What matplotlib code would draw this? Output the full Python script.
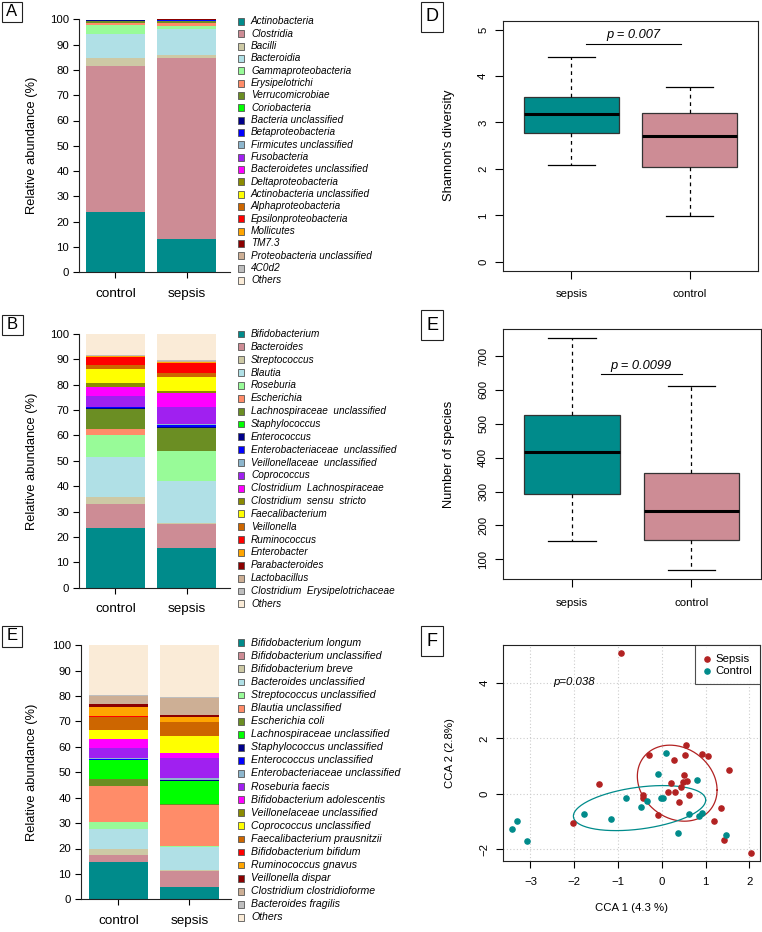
import matplotlib.pyplot as plt
import numpy as np
from matplotlib.patches import Rectangle

plt.rcParams['font.family'] = ['Liberation Sans', 'DejaVu Sans']

W, H = 762, 932

# colours shared by the three stacked bar panels (same order as the legends)
palette = ['#008B8B', '#CD8C95', '#CDC9A5', '#B0E0E6', '#98FB98', '#FF8C69',
           '#6B8E23', '#00FF00', '#00008B', '#0000FF', '#8DB6CD', '#A020F0',
           '#FF00FF', '#8B8B00', '#FFFF00', '#CD6600', '#FF0000', '#FFA500',
           '#8B0000', '#CDAF95', '#BEBEBE', '#FAEBD7']
teal = '#008B8B'
pink = '#CD8C95'
red = '#B22222'

groups = ['control', 'sepsis']

# panel A - class level
class_names = ['Actinobacteria', 'Clostridia', 'Bacilli', 'Bacteroidia', 'Gammaproteobacteria',
               'Erysipelotrichi', 'Verrucomicrobiae', 'Coriobacteria', 'Bacteria unclassified',
               'Betaproteobacteria', 'Firmicutes unclassified', 'Fusobacteria',
               'Bacteroidetes unclassified', 'Deltaproteobacteria', 'Actinobacteria unclassified',
               'Alphaproteobacteria', 'Epsilonproteobacteria', 'Mollicutes', 'TM7.3',
               'Proteobacteria unclassified', '4C0d2', 'Others']
class_control = [23.8, 57.8, 3.1, 9.6, 3.5, 0.6, 1.0, 0.1, 0.15, 0.03, 0.03, 0.02, 0.02,
                 0.02, 0.02, 0.02, 0.02, 0.02, 0.01, 0.02, 0.01, 0.03]
class_sepsis = [13.3, 71.5, 1.0, 10.2, 1.4, 1.3, 0.5, 0.2, 0.1, 0.1, 0.05, 0.05, 0.05,
                0.05, 0.03, 0.03, 0.03, 0.03, 0.02, 0.03, 0.01, 0.02]

# panel B - genus level
genus_names = ['Bifidobacterium', 'Bacteroides', 'Streptococcus', 'Blautia', 'Roseburia',
               'Escherichia', 'Lachnospiraceae  unclassified', 'Staphylococcus', 'Enterococcus',
               'Enterobacteriaceae  unclassified', 'Veillonellaceae  unclassified', 'Coprococcus',
               'Clostridium  Lachnospiraceae', 'Clostridium  sensu  stricto', 'Faecalibacterium',
               'Veillonella', 'Ruminococcus', 'Enterobacter', 'Parabacteroides', 'Lactobacillus',
               'Clostridium  Erysipelotrichaceae', 'Others']
genus_control = [23.7, 9.3, 2.9, 15.7, 8.6, 2.2, 8.0, 0.1, 0.2, 0.5, 0.2, 4.0, 3.7, 1.6,
                 5.4, 1.5, 3.5, 0.1, 0.1, 0.2, 0.3, 8.2]
genus_sepsis = [15.8, 9.2, 0.4, 16.5, 11.8, 0.2, 9.0, 0.1, 0.2, 0.9, 0.3, 7.0, 5.2, 1.1,
                5.2, 1.9, 3.9, 0.1, 0.2, 0.3, 0.4, 10.3]

# panel E (left) - species level
species_names = ['Bifidobacterium longum', 'Bifidobacterium unclassified', 'Bifidobacterium breve',
                 'Bacteroides unclassified', 'Streptococcus unclassified', 'Blautia unclassified',
                 'Escherichia coli', 'Lachnospiraceae unclassified', 'Staphylococcus unclassified',
                 'Enterococcus unclassified', 'Enterobacteriaceae unclassified', 'Roseburia faecis',
                 'Bifidobacterium adolescentis', 'Veillonelaceae unclassified',
                 'Coprococcus unclassified', 'Faecalibacterium prausnitzii',
                 'Bifidobacterium bifidum', 'Ruminococcus gnavus', 'Veillonella dispar',
                 'Clostridium clostridioforme', 'Bacteroides fragilis', 'Others']
species_control = [14.6, 3.0, 2.3, 7.8, 2.7, 14.2, 2.6, 7.7, 0.1, 0.2, 0.6, 3.9, 3.3, 0.1,
                   3.6, 5.1, 0.4, 3.4, 1.3, 3.3, 0.2, 19.6]
species_sepsis = [4.7, 6.3, 0.5, 9.0, 0.4, 16.4, 0.1, 9.3, 0.1, 0.1, 0.7, 8.0, 1.9, 0.1,
                  6.8, 5.3, 0.2, 1.8, 0.9, 6.5, 0.4, 20.5]

# panels D and E (right) - box summaries: lower whisker, Q1, median, Q3, upper whisker
box_groups = ['sepsis', 'control']
shannon_sepsis = [2.09, 2.78, 3.18, 3.54, 4.41]
shannon_control = [0.99, 2.04, 2.70, 3.21, 3.77]
richness_sepsis = [154, 293, 416, 525, 752]
richness_control = [68, 157, 243, 356, 613]

# panel F - CCA site scores
sepsis_x = [-0.93, -1.44, -2.02, -0.29, 0.56, 0.52, 0.92, 1.06, 0.27, 1.54, 0.50, 0.20, 0.48,
            0.58, 0.44, 0.13, 0.30, 0.63, -0.44, -0.44, 0.40, -0.08, 1.35, 1.18, 1.42, 2.03]
sepsis_y = [5.07, 0.36, -1.06, 1.40, 1.75, 1.41, 1.42, 1.37, 1.20, 0.84, 0.67, 0.37, 0.43,
            0.45, 0.23, 0.07, 0.07, -0.04, -0.05, -0.17, -0.29, -0.76, -0.53, -1.00, -1.67, -2.14]
control_x = [0.09, -0.08, 0.81, -0.83, -0.35, -0.48, -0.02, 0.03, -1.77, -1.17, 0.63, 0.84,
             0.92, 0.37, 1.47, -3.31, -3.41, -3.08]
control_y = [1.48, 0.72, 0.49, -0.14, -0.27, -0.47, -0.17, -0.17, -0.75, -0.92, -0.75, -0.80,
             -0.71, -1.43, -1.49, -0.98, -1.28, -1.70]
# ellipse: centre x, centre y, x half-width, y half-height, tilt of y with x
sepsis_ell = (0.35, 0.38, 0.91, 1.35, -0.25)
control_ell = (-0.51, -0.52, 1.51, 0.76, 0.29)

fig = plt.figure(figsize=(W / 100, H / 100), dpi=100)


def add_axes_px(left, top, right, bottom):
    return fig.add_axes([left / W, 1 - bottom / H, (right - left) / W, (bottom - top) / H])


def letter_box(x0, y0, x1, y1, letter, size):
    fig.add_artist(Rectangle((x0 / W, 1 - y1 / H), (x1 - x0) / W, (y1 - y0) / H,
                             transform=fig.transFigure, fill=False, edgecolor='#222222', lw=0.8))
    fig.text((x0 + x1) / 2 / W, 1 - (y0 + y1) / 2 / H, letter, ha='center', va='center',
             fontsize=size)


def stacked_panel(rect, control, sepsis, names, xlim, leg_y0, leg_step, leg_size):
    ax = add_axes_px(*rect)
    pos = [0.7, 1.9]
    bottoms = np.zeros(2)
    for i in range(len(names)):
        vals = np.array([control[i], sepsis[i]])
        ax.bar(pos, vals, width=1.0, bottom=bottoms, color=palette[i], linewidth=0)
        bottoms += vals
    ax.set_xlim(*xlim)
    ax.set_ylim(0, 100)
    for s in ['top', 'right']:
        ax.spines[s].set_visible(False)
    for s in ['left', 'bottom']:
        ax.spines[s].set_linewidth(0.8)
        ax.spines[s].set_color('#222222')
    ax.set_xticks(pos, groups)
    ax.set_yticks(range(0, 101, 10))
    ax.tick_params(axis='y', length=4.3, width=0.8, pad=2.5, labelsize=8.2)
    ax.tick_params(axis='x', length=4.3, width=0.8, pad=7, labelsize=9.7)
    ax.set_ylabel('Relative abundance (%)', fontsize=9.3)
    ax.yaxis.set_label_coords((38 - rect[0]) / (rect[2] - rect[0]), 0.5)
    # legend squares + italic names
    for i, name in enumerate(names):
        yc = leg_y0 + i * leg_step
        fig.add_artist(Rectangle((237.5 / W, 1 - (yc + 3.4) / H), 6.8 / W, 6.8 / H,
                                 transform=fig.transFigure, facecolor=palette[i],
                                 edgecolor='#555555', lw=0.6))
        fig.text(251 / W, 1 - yc / H, name, va='center', ha='left', style='italic',
                 fontsize=leg_size)
    return ax


stacked_panel((78.7, 19.3, 230, 272.3), class_control, class_sepsis, class_names,
              (0.08, 2.63), 21.5, 12.33, 7.2)
stacked_panel((78.7, 334, 230, 587.7), genus_control, genus_sepsis, genus_names,
              (0.08, 2.63), 334, 12.85, 7.2)
stacked_panel((80.7, 645.3, 230.7, 899.3), species_control, species_sepsis, species_names,
              (0.065, 2.595), 642.7, 13.08, 7.6)


def box_panel(rect, sep, con, ylim, yticks, ylabel, pl_x, pl_y, pt_x, pt_y, ptext):
    ax = add_axes_px(*rect)
    stats = []
    for s in [sep, con]:
        stats.append(dict(whislo=s[0], q1=s[1], med=s[2], q3=s[3], whishi=s[4]))
    bp = ax.bxp(stats, positions=[1, 2], widths=0.8, capwidths=0.4, patch_artist=True,
                showfliers=False,
                boxprops=dict(edgecolor='#333333', linewidth=0.9),
                medianprops=dict(color='black', linewidth=2.2),
                whiskerprops=dict(color='black', linewidth=0.9, linestyle=(0, (3, 3))),
                capprops=dict(color='black', linewidth=0.9))
    for patch, c in zip(bp['boxes'], [teal, pink]):
        patch.set_facecolor(c)
    ax.set_xlim(0.42, 2.58)
    ax.set_ylim(*ylim)
    ax.set_xticks([1, 2], box_groups)
    ax.set_yticks(yticks)
    for lab in ax.get_yticklabels():
        lab.set_rotation(90)
        lab.set_va('center')
    ax.tick_params(axis='both', length=5.5, width=0.8, labelsize=8.2)
    ax.tick_params(axis='x', pad=8)
    ax.tick_params(axis='y', pad=5)
    for s in ax.spines.values():
        s.set_linewidth(0.8)
        s.set_color('#222222')
    ax.set_ylabel(ylabel, fontsize=9.3)
    ax.yaxis.set_label_coords((455 - rect[0]) / (rect[2] - rect[0]), 0.5)
    ax.plot(pl_x, pl_y, color='black', lw=0.8)
    ax.text(pt_x, pt_y, ptext, ha='center', va='center', style='italic', fontsize=9.3)
    return ax


box_panel((502.7, 20.7, 758.3, 270.7), shannon_sepsis, shannon_control, (-0.19, 5.19),
          range(0, 6), "Shannon's diversity", [1.12, 1.93], [4.68, 4.68], 1.525, 4.88,
          'p = 0.007')
box_panel((502.7, 329.3, 760.7, 579.3), richness_sepsis, richness_control, (41, 779),
          range(100, 701, 100), 'Number of species', [1.24, 1.92], [647, 647], 1.58, 670,
          'p = 0.0099')

# panel F - CCA
axf = add_axes_px(503.3, 645.3, 760, 860.7)
axf.grid(True, color='#cccccc', linestyle=(0, (1, 2)), lw=0.8)
axf.set_axisbelow(True)
axf.scatter(sepsis_x, sepsis_y, s=14, color=red, zorder=3, label='Sepsis')
axf.scatter(control_x, control_y, s=14, color=teal, zorder=3, label='Control')
t = np.linspace(0, 2 * np.pi, 200)
for (cx, cy, a, b, c), col in [(sepsis_ell, red), (control_ell, teal)]:
    axf.plot(cx + a * np.cos(t), cy + b * np.sin(t) + c * np.cos(t), color=col, lw=0.9)
axf.set_xlim(-3.62, 2.24)
axf.set_ylim(-2.42, 5.36)
axf.set_xticks(range(-3, 3))
axf.set_yticks([-2, 0, 2, 4])
for lab in axf.get_yticklabels():
    lab.set_rotation(90)
    lab.set_va('center')
axf.tick_params(axis='both', length=5, width=0.8, labelsize=8.2)
axf.tick_params(axis='x', pad=6.5)
axf.tick_params(axis='y', pad=5)
for s in axf.spines.values():
    s.set_linewidth(0.8)
    s.set_color('#222222')
axf.set_xlabel('CCA 1 (4.3 %)', fontsize=8.2, labelpad=12)
axf.set_ylabel('CCA 2 (2.8%)', fontsize=8.2)
axf.yaxis.set_label_coords((455 - 503.3) / (760 - 503.3), 0.5)
axf.text(-2.48, 4.04, 'p=0.038', style='italic', fontsize=8.2, ha='left', va='center')
leg = axf.legend(loc='upper right', fontsize=8.2, frameon=True, fancybox=False,
                 borderaxespad=0, handletextpad=0.4, borderpad=0.72, labelspacing=0.2,
                 handlelength=0.6)
leg.get_frame().set_edgecolor('#222222')
leg.get_frame().set_linewidth(0.8)

letter_box(1.7, 1.7, 22, 22, 'A', 12)
letter_box(1.7, 314.5, 22.5, 335, 'B', 12)
letter_box(1.7, 625.5, 22, 646.5, 'E', 12)
letter_box(421, 1.7, 443, 31.7, 'D', 13)
letter_box(421, 310, 443, 340, 'E', 13)
letter_box(421, 626, 443, 656, 'F', 13)

fig.savefig('out.png', dpi=100)
